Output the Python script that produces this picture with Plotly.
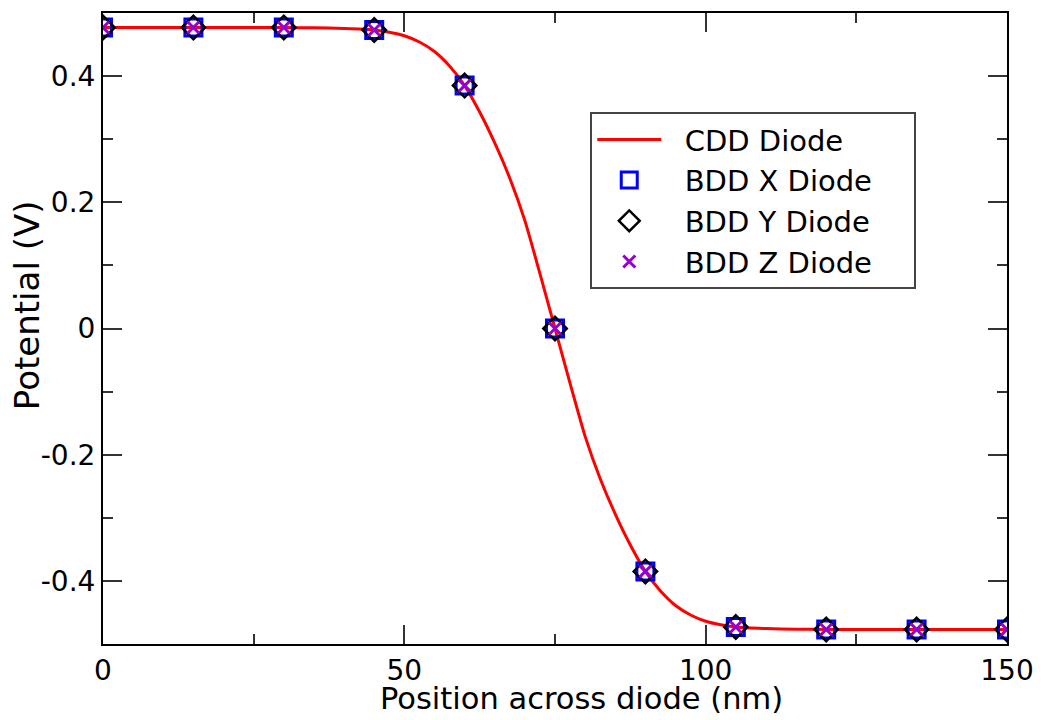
import plotly.graph_objects as go

# CDD Diode continuous curve
cdd_x = [0, 5, 10, 15, 20, 25, 30, 35, 40, 42.5, 45, 47.5, 50, 52.5, 55, 57.5,
         60, 62.5, 65, 67.5, 70, 72.5, 75, 77.5, 80, 82.5, 85, 87.5, 90, 92.5,
         95, 97.5, 100, 102.5, 105, 107.5, 110, 115, 120, 125, 130, 135, 140, 145, 150]
cdd_y = [0.477, 0.477, 0.477, 0.477, 0.477, 0.477, 0.477, 0.4765, 0.4755, 0.4745,
         0.473, 0.4695, 0.464, 0.454, 0.439, 0.416, 0.385, 0.343, 0.294, 0.238,
         0.171, 0.087, 0.0, -0.087, -0.171, -0.238, -0.294, -0.343, -0.385, -0.416,
         -0.439, -0.454, -0.464, -0.4695, -0.473, -0.4745, -0.4755, -0.4765, -0.477,
         -0.477, -0.477, -0.477, -0.477, -0.477, -0.477]

# BDD sample points
bdd_x = [0, 15, 30, 45, 60, 75, 90, 105, 120, 135, 150]
bdd_x_diode = [0.477, 0.477, 0.477, 0.473, 0.385, 0.0, -0.385, -0.473, -0.477, -0.477, -0.477]
bdd_y_diode = [0.477, 0.477, 0.477, 0.473, 0.385, 0.0, -0.385, -0.473, -0.477, -0.477, -0.477]
bdd_z_diode = [0.477, 0.477, 0.477, 0.473, 0.385, 0.0, -0.385, -0.473, -0.477, -0.477, -0.477]

x_tick_vals = [0, 50, 100, 150]
x_tick_text = ["0", "50", "100", "150"]
y_tick_vals = [-0.4, -0.2, 0, 0.2, 0.4]
y_tick_text = ["-0.4", "-0.2", "0", "0.2", "0.4"]

series_names = ["CDD Diode", "BDD X Diode", "BDD Y Diode", "BDD Z Diode"]
x_title = "Position across diode (nm)"
y_title = "Potential (V)"

FONT = "DejaVu Sans"
LEAD = "\u00a0\u00a0"
TRAIL = "\u00a0\u00a0\u00a0\u00a0"


def legend_name(s):
    return LEAD + s + TRAIL


fig = go.Figure()
fig.add_trace(go.Scatter(x=cdd_x, y=cdd_y, mode="lines", name=legend_name(series_names[0]),
                         line=dict(color="#ff0000", width=3, shape="spline", smoothing=0.6)))
fig.add_trace(go.Scatter(x=bdd_x, y=bdd_x_diode, mode="markers", name=legend_name(series_names[1]),
                         marker=dict(symbol="square-open", size=17, color="#0000ff",
                                     line=dict(width=3, color="#0000ff"))))
fig.add_trace(go.Scatter(x=bdd_x, y=bdd_y_diode, mode="markers", name=legend_name(series_names[2]),
                         marker=dict(symbol="diamond-open", size=18, color="#000000",
                                     line=dict(width=2.5, color="#000000"))))
fig.add_trace(go.Scatter(x=bdd_x, y=bdd_z_diode, mode="markers", name=legend_name(series_names[3]),
                         marker=dict(symbol="x-thin-open", size=12, color="#9400d3",
                                     line=dict(width=3, color="#9400d3"))))

axis_common = dict(showline=True, linecolor="#000000", linewidth=2, mirror="ticks",
                   ticks="inside", ticklen=19, tickwidth=1.5, tickcolor="#333333",
                   showgrid=False, zeroline=False,
                   tickfont=dict(family=FONT, size=28, color="#000000"))

fig.update_xaxes(range=[0, 150], tickvals=x_tick_vals, ticktext=x_tick_text,
                 minor=dict(dtick=25, tick0=0, ticks="inside", ticklen=10, tickwidth=1.5,
                            tickcolor="#333333"),
                 **axis_common)
fig.update_yaxes(range=[-0.5, 0.5], tickvals=y_tick_vals, ticktext=y_tick_text,
                 minor=dict(dtick=0.1, tick0=0, ticks="inside", ticklen=10, tickwidth=1.5,
                            tickcolor="#333333"),
                 **axis_common)

fig.add_annotation(text=x_title, xref="paper", yref="paper", x=0.5288, y=-0.1173,
                   xanchor="center", yanchor="bottom", showarrow=False,
                   font=dict(family=FONT, size=30.5, color="#000000"))
fig.add_annotation(text=y_title, xref="paper", yref="paper", x=-0.0841, y=0.537,
                   xanchor="center", yanchor="middle", showarrow=False, textangle=-90,
                   font=dict(family=FONT, size=34, color="#000000"))

fig.update_layout(
    width=1045, height=720,
    margin=dict(l=103, r=38, t=13, b=76),
    paper_bgcolor="#ffffff", plot_bgcolor="#ffffff",
    showlegend=True,
    legend=dict(x=0.539, y=0.843, xanchor="left", yanchor="top",
                bgcolor="#ffffff", bordercolor="#444444", borderwidth=2,
                font=dict(family=FONT, size=29, color="#000000"),
                tracegroupgap=0, itemwidth=64),
)

fig.write_html("out.html")
